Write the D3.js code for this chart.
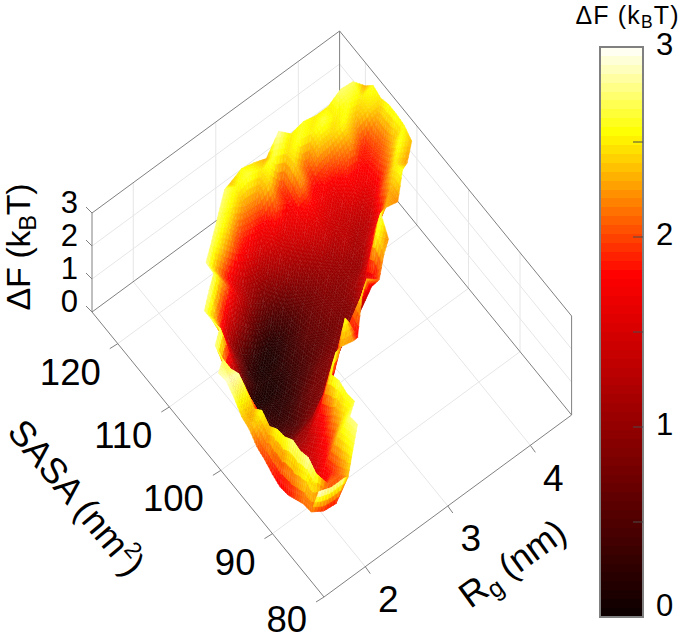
<!DOCTYPE html>
<html><head><meta charset="utf-8">
<style>html,body{margin:0;background:#fff}svg{display:block}text{font-family:"Liberation Sans",Arial,sans-serif;fill:#000}</style>
<script src="https://cdnjs.cloudflare.com/ajax/libs/d3/7.8.5/d3.min.js"></script></head>
<body><svg id="c" width="680" height="640"><defs><filter id="soft" x="-5%" y="-5%" width="110%" height="110%"><feGaussianBlur stdDeviation="0.55"/></filter></defs></svg>
<script>
const _ = null;
const rgValues = d3.range(21).map(i => 1.5 + i * 0.15);
const sasaValues = [81,82.5,84,85.5,87,88.5,90,91.5,93,94.5,96,97.5,99,100.5,102,103.5,105,106.5,108,109.5,111,112.5,114,115.5,117,118.5,120];
const freeEnergy = [
[3,2.85,2.85],
[2.1,1.85,1.8,2.35],
[2.05,2.7,2.1,2.1,2.6],
[1.9,2.9,1.7,1.9,2.5,2.8],
[1.75,2.8,1.5,1.8,2.4,2.75],
[1.7,2.85,1.3,1.55,1.9,2.4,2.65],
[1.8,2.65,1.3,1.4,1.7,2.2,2.6],
[1.95,2.6,1.1,1.3,1.45,1.9,2.7],
[2.05,2.4,.95,1.1,1.2,1.7,2.6],
[2.3,2.6,.8,.85,1,1.15,1.7,2.7],
[2.4,2.35,1.3,.7,.65,.75,.95,1.1,2.3,2.2],
[2.7,2.6,1.7,.8,.5,.5,.7,.85,1.3,2.6,1.75],
[2.9,2.85,1.8,.6,.35,.35,.55,.75,.85,1.15,1.9,2.5],
[2.85,2.7,1.9,.5,.3,.25,.35,.55,.75,.85,1,1.5,2.4,2.1],
[_,2.7,1.8,.4,.25,.2,.25,.4,.55,.7,.8,.95,1.05,1.6,2.3],
[_,2.85,1.7,.5,.2,.1,.15,.3,.45,.6,.7,.8,.9,1.4,2.6,2.2],
[_,_,2.8,1.5,.6,.2,.15,.25,.4,.6,.7,.85,.9,1.1,1.5,2.7],
[_,_,2.75,1.9,.95,.3,.12,.15,.3,.5,.7,.85,.9,1,1.05,1.7,2.3,2.2],
[_,_,2.75,2.2,1.2,.6,.3,.15,.25,.45,.7,.85,1,1.05,1.1,1.25,1.7,2.3,2.6],
[_,_,_,2.8,2,1.3,.85,.5,.4,.55,.8,.95,1.1,1.15,1.3,1.2,1.35,2,2.5,2.25],
[_,_,_,_,2.75,2.1,1.45,1,.75,.85,1,1.15,1.3,1.4,1.35,1.35,1.4,1.65,2.1,2.6,2.35],
[_,_,_,_,2.8,2.2,1.7,1.3,1.15,1.15,1.3,1.4,1.55,1.6,1.5,1.5,1.65,1.7,1.95,2.3,2.55],
[_,_,_,_,_,2.75,2.35,1.95,1.65,1.5,1.6,1.6,1.7,1.85,1.7,1.65,1.85,1.8,1.9,2.15,2.6],
[_,_,_,_,_,_,2.75,2.45,2,1.9,1.8,2.05,1.8,2.25,1.8,1.95,2.1,2.25,1.9,2.2,2.6],
[_,_,_,_,_,_,_,2.75,2.5,2.25,2.2,2.45,1.95,2.45,2.05,2.35,2.4,2.55,2.3,2.45,2.5],
[_,_,_,_,_,_,_,_,2.75,2.55,2.65,2.5,2.65,2.45,2.6,2.5,2.65,2.5,2.6,2.5,2.6],
[_,_,_,_,_,_,_,_,_,2.35,2.55,2.45,2.3,2.85,2.5,2.6,2.5,2.5,2.75,2.7,2.3]
];
const sasaTicks = [80,90,100,110,120];
const rgTicks = [2,3,4];
const fTicks = [0,1,2,3];
const barMinorTicks = [0,.5,1,1.5,2,2.5,3];
const barLabels = [0,1,2,3];

/* oblique projection built from linear scales */
const origin = {x:324, y:597};
const rgX = d3.scaleLinear([1.5,4.5],[0,247.6]);
const rgY = d3.scaleLinear([1.5,4.5],[0,-182]);
const saX = d3.scaleLinear([80,125],[0,-232]);
const saY = d3.scaleLinear([80,125],[0,-285]);
const fY  = d3.scaleLinear([0,3],[0,-99]);
const P = (r,s,f=0)=>[origin.x+rgX(r)+saX(s), origin.y+rgY(r)+saY(s)+fY(f)];

const hot = d3.scaleLinear([0,1.8,2.55,3],["#0c0000","#ff0000","#ffff00","#ffffff"]).clamp(true);

const svg = d3.select("#c");
const GRID="#e6e6e6", AX="#808080";
const L=(g,a,b,c,w=1)=>g.append("line").attr("x1",a[0]).attr("y1",a[1]).attr("x2",b[0]).attr("y2",b[1]).attr("stroke",c).attr("stroke-width",w);

const g0 = svg.append("g");
rgTicks.forEach(r=>{L(g0,P(r,80),P(r,125),GRID);L(g0,P(r,125),P(r,125,3),GRID);});
sasaTicks.slice(1).forEach(s=>{L(g0,P(1.5,s),P(4.5,s),GRID);L(g0,P(4.5,s),P(4.5,s,3),GRID);});
[1,2].forEach(f=>{L(g0,P(1.5,125,f),P(4.5,125,f),GRID);L(g0,P(4.5,125,f),P(4.5,80,f),GRID);});
[[[1.5,125,0],[1.5,125,3]],[[1.5,125,3],[4.5,125,3]],[[4.5,125,3],[4.5,80,3]],[[4.5,80,3],[4.5,80,0]],
 [[4.5,125,0],[4.5,125,3]],[[1.5,125,0],[4.5,125,0]],[[4.5,125,0],[4.5,80,0]],[[1.5,125,0],[1.5,80,0]],[[1.5,80,0],[4.5,80,0]]]
 .forEach(([a,b])=>L(g0,P(...a),P(...b),AX));

/* ticks + labels */
sasaTicks.forEach(s=>{const p=P(1.5,s);L(g0,p,[p[0]-8,p[1]+5],AX);
  const lift = s===80 ? 22 : 28;
  g0.append("text").attr("x",p[0]-17).attr("y",p[1]+lift).attr("dy",".36em").attr("text-anchor","end").attr("font-size",36.5).text(s);});
rgTicks.forEach(r=>{const p=P(r,80);L(g0,p,[p[0]+5,p[1]+7],AX);
  g0.append("text").attr("x",p[0]+23).attr("y",p[1]+32).attr("dy",".36em").attr("text-anchor","middle").attr("font-size",37).text(r);});
fTicks.forEach(f=>{const p=P(1.5,125,f);L(g0,p,[p[0]-6,p[1]-6],AX);
  g0.append("text").attr("x",p[0]-14).attr("y",p[1]-11).attr("dy",".36em").attr("text-anchor","end").attr("font-size",31).text(f);});

/* surface: triangles painted back to front */
const tris=[];
for(let i=0;i<sasaValues.length-1;i++){for(let j=0;j<rgValues.length-1;j++){
  const g=(a,b)=>{const row=freeEnergy[a];const v=row?row[b]:null;return v==null?null:[rgValues[b],sasaValues[a],v];};
  const A=g(i,j),B=g(i,j+1),C=g(i+1,j+1),D=g(i+1,j);
  const add=(p,q,t)=>{if(p&&q&&t)tris.push([p,q,t]);};
  if(A&&B&&C&&D){add(A,B,C);add(A,C,D);}
  else{add(A,B,C);add(A,C,D);add(A,B,D);add(B,C,D);}
}}
const depth=t=>d3.mean(t,p=>P(p[0],p[1])[1]);
tris.sort((a,b)=>depth(a)-depth(b));
const N=4, parts=[];
tris.forEach(t=>{
  const pt=(u,v)=>{const w=1-u-v;return [0,1,2].map(k=>t[0][k]*u+t[1][k]*v+t[2][k]*w);};
  for(let a=0;a<N;a++)for(let b=0;b<N-a;b++){
    const u0=a/N,v0=b/N,d=1/N;
    parts.push({tri:[pt(u0,v0),pt(u0+d,v0),pt(u0,v0+d)]});
    if(a+b<N-1)parts.push({tri:[pt(u0+d,v0),pt(u0+d,v0+d),pt(u0,v0+d)]});
  }
  parts.push({tri:t,edge:true});
});
const path=t=>"M"+t.map(p=>P(p[0],p[1],Math.min(p[2],3)).map(v=>v.toFixed(1)).join(",")).join("L")+"Z";
svg.append("g").attr("filter","url(#soft)").selectAll("path").data(parts).join("path")
  .attr("d",d=>path(d.tri))
  .attr("fill",d=>d.edge?"none":hot(d3.mean(d.tri,p=>p[2])))
  .attr("stroke",d=>d.edge?"#fff":hot(d3.mean(d.tri,p=>p[2])))
  .attr("stroke-width",d=>d.edge?.4:.5)
  .attr("stroke-opacity",d=>d.edge?.09:1)
  .attr("stroke-linejoin","round");

/* axis titles */
function title(x,y,rot,size,len,build){
  const t=svg.append("text").attr("transform",`translate(${x},${y}) rotate(${rot})`).attr("text-anchor","middle").attr("font-size",size).attr("textLength",len).attr("lengthAdjust","spacing");
  build(t);
}
const dF=t=>{t.append("tspan").text("ΔF (k");t.append("tspan").attr("font-size","70%").attr("dy",".25em").text("B");t.append("tspan").attr("dy","-.18em").text("T)");};
title(30,247,-90,34,127,dF);
title(627,24,0,25,103,dF);
title(77,497,50,36,190,t=>{t.attr("dy",".36em");t.append("tspan").text("SASA (nm");t.append("tspan").attr("font-size","65%").attr("dy","-.6em").text("2");t.append("tspan").attr("dy",".4em").text(")");});
title(512,563,-36,36,122,t=>{t.attr("dy",".36em");t.append("tspan").text("R");t.append("tspan").attr("font-size","70%").attr("dy",".25em").text("g");t.append("tspan").attr("dy","-.18em").text(" (nm)");});

/* colour bar */
const barY=d3.scaleLinear([0,3],[617,47]);
const bar=svg.append("g");
const bands=d3.range(64);
bar.selectAll("rect").data(bands).join("rect")
  .attr("x",600).attr("width",43)
  .attr("y",i=>Math.round(barY((i+1)*3/64))).attr("height",i=>Math.round(barY(i*3/64))-Math.round(barY((i+1)*3/64)))
  .attr("fill",i=>hot((i+.5)*3/64));
bar.append("rect").attr("x",600).attr("y",47).attr("width",43).attr("height",570).attr("fill","none").attr("stroke",AX).attr("stroke-width",2);
barMinorTicks.slice(1,-1).forEach(v=>L(bar,[633,barY(v)],[643,barY(v)],"#4a4a4a",1));
barLabels.forEach(v=>bar.append("text").attr("x",656).attr("y",barY(v)-(v===0?12:3)).attr("dy",".36em").attr("font-size",31).text(v));
</script></body></html>
